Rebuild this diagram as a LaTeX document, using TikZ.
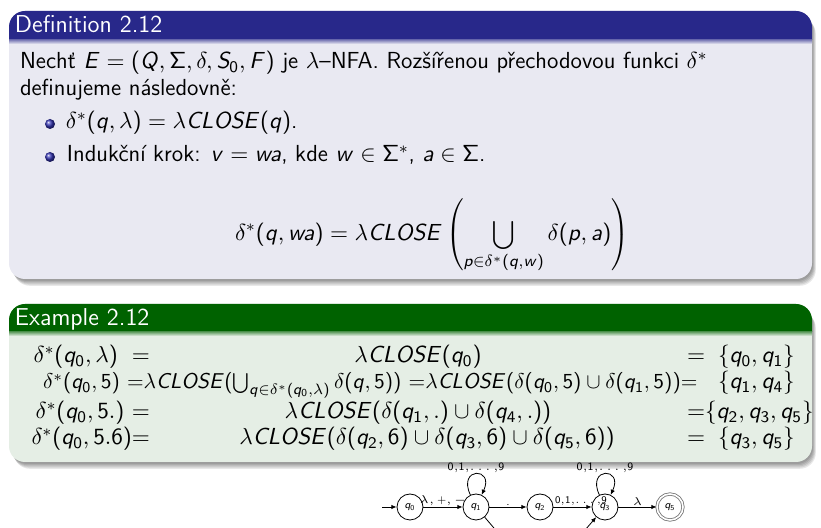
\RequirePackage{fix-cm}
\documentclass[tikz,border=0pt]{standalone}
\usetikzlibrary{arrows.meta}
% beamer-like sans-serif math: digits/operators upright sans, latin letters slanted sans
\SetSymbolFont{operators}{normal}{OT1}{cmss}{m}{n}
\SetSymbolFont{operators}{bold}{OT1}{cmss}{bx}{n}
\DeclareSymbolFont{sflets}{OT1}{cmss}{m}{sl}
\makeatletter
\count@=`a
\loop
  \mathcode\count@=\numexpr"7000+\symsflets*256+\count@\relax
  \advance\count@ 1
\ifnum\count@<\numexpr`z+1\relax\repeat
\count@=`A
\loop
  \mathcode\count@=\numexpr"7000+\symsflets*256+\count@\relax
  \advance\count@ 1
\ifnum\count@<\numexpr`Z+1\relax\repeat
\makeatother
\definecolor{deftitle}{RGB}{40,40,138}
\definecolor{defbody}{RGB}{233,233,242}
\definecolor{extitle}{RGB}{0,98,0}
\definecolor{exbody}{RGB}{229,238,229}
\definecolor{ballblue}{RGB}{51,51,178}
\tikzset{
  txt/.style={inner sep=0pt, outer sep=0pt, font=\fontsize{11.6}{13.5}\selectfont\sffamily},
  txtnarrow/.style={inner sep=0pt, outer sep=0pt, font=\fontsize{10.7}{13}\selectfont\sffamily},
  ttl/.style={inner sep=0pt, outer sep=0pt, text=white, font=\fontsize{12.2}{14}\selectfont\sffamily},
  ballnode/.style={circle, shade, ball color=ballblue, minimum size=5pt, inner sep=0pt},
  stt/.style={circle, draw, line width=0.4pt, minimum size=13pt, inner sep=0pt, font=\fontsize{5.4}{6}\selectfont\sffamily},
  acc/.style={stt, draw=black!55, double=white, double distance=0.8pt},
  lbl/.style={inner sep=0.6pt, font=\fontsize{5.6}{6.5}\selectfont\sffamily},
  lblsmall/.style={inner sep=0.6pt, font=\fontsize{5.1}{6}\selectfont\sffamily},
  arr/.style={line width=0.4pt, -{Latex[length=2.6pt,width=2.2pt]}},
  shadowbox/.style={fill=black, opacity=0.09, rounded corners=8},
}
\newcommand{\digs}{$0,\!1,\!\ldots,\!9$}
\begin{document}
\begin{tikzpicture}[x=0.5pt,y=-0.5pt]
\useasboundingbox (0,0) rectangle (821,528);
\clip (0,0) rectangle (821,528);
\fill[white] (0,0) rectangle (821,528);
% ---------- Definition block ----------
\foreach \k in {0,...,4}
  \fill[shadowbox] ({11+\k*0.7},{14+\k*1.0}) rectangle ({813+\k*0.7},{281+\k*1.2});
\fill[defbody, rounded corners=8] (9,11) rectangle (812,279);
\begin{scope}
  \clip (0,0) rectangle (821,40);
  \fill[deftitle, rounded corners=8] (9,11) rectangle (812,279);
\end{scope}
\shade[top color=deftitle!55!defbody, bottom color=defbody] (9,40) rectangle (812,44);
\node[ttl, anchor=base west] (t1) at (15,33) {Definition 2.12};
\node[txt, anchor=base west] (l1) at (20,69) {Nechť $E=(Q,\Sigma,\delta,S_0,F)$ je $\lambda$--NFA. Rozšířenou přechodovou funkci $\delta^*$};
\node[txt, anchor=base west] (l2) at (20,96) {definujeme následovně:};
\node[ballnode] (b1) at (50,124) {};
\node[txt, anchor=base west] (i1) at (66,129) {$\delta^*(q,\lambda)=\lambda CLOSE(q)$.};
\node[ballnode] (b2) at (50,157) {};
\node[txt, anchor=base west] (i2) at (67,162) {Indukční krok: $v=wa$, kde $w\in\Sigma^*$, $a\in\Sigma$.};
\node[txt, anchor=base] (f1) at (432,241) {$\displaystyle \delta^*(q,wa)=\lambda CLOSE\left(\bigcup_{p\in\delta^*(q,w)}\delta(p,a)\right)$};
% ---------- Example block ----------
\foreach \k in {0,...,4}
  \fill[shadowbox] ({11+\k*0.7},{308+\k*1.0}) rectangle ({813+\k*0.7},{464+\k*1.2});
\fill[exbody, rounded corners=8] (9,304) rectangle (812,462);
\begin{scope}
  \clip (0,0) rectangle (821,332);
  \fill[extitle, rounded corners=8] (9,304) rectangle (812,462);
\end{scope}
\shade[top color=extitle!55!exbody, bottom color=exbody] (9,332) rectangle (812,336);
\node[ttl, anchor=base west] (t2) at (15,326) {Example 2.12};
% row 1
\node[txt, anchor=base east] (r1l) at (150,363) {$\delta^*(q_0,\lambda)\ =$};
\node[txt, anchor=base] (r1m) at (418,363) {$\lambda CLOSE(q_0)$};
\node[txt, anchor=base west] (r1e) at (687,363) {$=$};
\node[txt, anchor=base west] (r1r) at (718,363) {$\{q_0,q_1\}$};
% row 2
\node[txtnarrow, anchor=base west] (r2l) at (43,389) {$\delta^*(q_0,5)\ {=}\lambda CLOSE(\bigcup_{q\in\delta^*(q_0,\lambda)}\delta(q,5))\ {=}\lambda CLOSE(\delta(q_0,5)\cup\delta(q_1,5)){=}$};
\node[txt, anchor=base west] (r2r) at (718,389) {$\{q_1,q_4\}$};
% row 3
\node[txt, anchor=base east] (r3l) at (150,419) {$\delta^*(q_0,5.)\ {=}$};
\node[txt, anchor=base] (r3m) at (418,419) {$\lambda CLOSE(\delta(q_1,.)\cup\delta(q_4,.))$};
\node[txt, anchor=base west] (r3r) at (687,419) {${=}\{q_2,q_3,q_5\}$};
% row 4
\node[txt, anchor=base east] (r4l) at (150,445) {$\delta^*(q_0,5.6){=}$};
\node[txt, anchor=base] (r4m) at (427,445) {$\lambda CLOSE(\delta(q_2,6)\cup\delta(q_3,6)\cup\delta(q_5,6))$};
\node[txt, anchor=base west] (r4e) at (687,445) {$=$};
\node[txt, anchor=base west] (r4r) at (718,445) {$\{q_3,q_5\}$};
% ---------- automaton ----------
\node[stt] (q0) at (410,507) {$q_0$};
\node[stt] (q1) at (476,507) {$q_1$};
\node[stt] (q2) at (540,507) {$q_2$};
\node[stt] (q3) at (605,507) {$q_3$};
\node[acc] (q5) at (670,507) {$q_5$};
\coordinate (st) at (382,507);
\coordinate (q4) at (540,582);
\draw[arr] (st) -- (q0);
\draw[arr] (q0) -- node[lbl, above] {$\lambda,+,-$} (q1);
\draw[arr] (q1) -- node[lbl, above] {.} (q2);
\draw[arr] (q2) -- node[lblsmall, pos=0, anchor=south west] {\digs} (q3);
\draw[arr] (q3) -- node[lbl, above] {$\lambda$} (q5);
\draw[arr] (q1) to[out=115, in=65, looseness=7] node[lbl, above] {\digs} (q1);
\draw[arr] (q3) to[out=115, in=65, looseness=7] node[lbl, above] {\digs} (q3);
\draw[arr] (q1) -- (q4);
\draw[arr] (q4) -- (q3);
\end{tikzpicture}
\end{document}
